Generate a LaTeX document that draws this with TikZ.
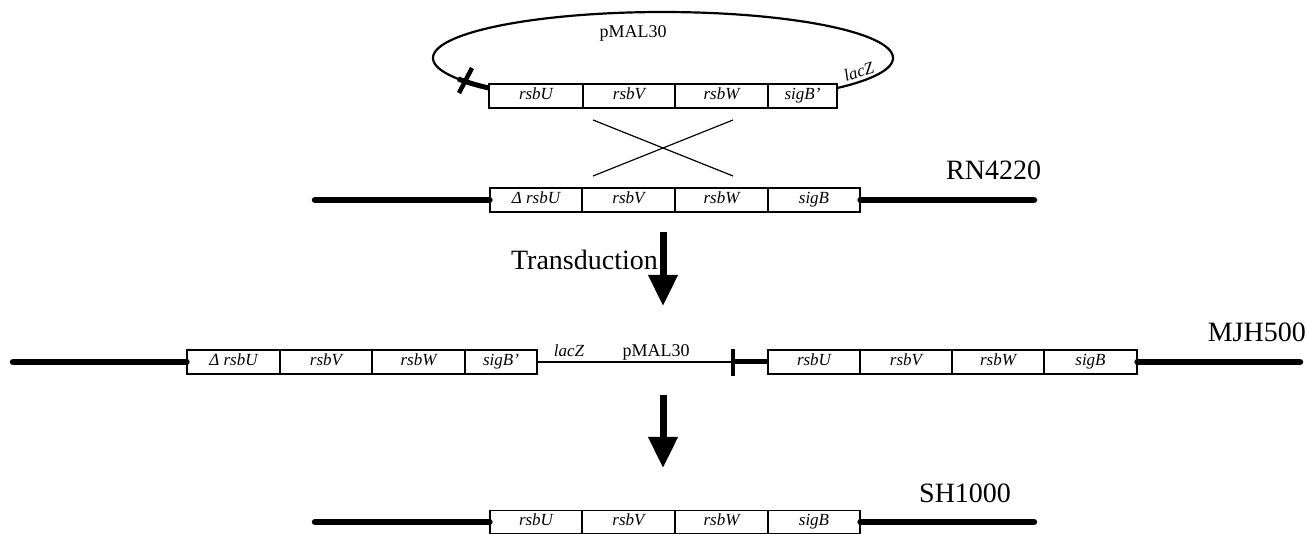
\documentclass[tikz,border=0pt]{standalone}
\usepackage{fontspec}
\setmainfont{Liberation Serif}
\usetikzlibrary{arrows.meta}

\begin{document}
\begin{tikzpicture}[x=1pt, y=-1pt,
  gene/.style={draw, line width=1.1pt, minimum height=24pt, inner sep=0pt,
               text height=11pt, text depth=3.5pt,
               font=\fontsize{17}{17}\selectfont\itshape},
  chrom/.style={line width=6.5pt, line cap=round},
  plasmid/.style={line width=2.2pt},
  thin/.style={line width=1.2pt},
  strain/.style={font=\fontsize{28}{28}\selectfont, inner sep=0pt},
  small/.style={font=\fontsize{18}{18}\selectfont, inner sep=0pt},
  bigarrow/.style={line width=7pt, -{Triangle[width=28pt,length=31pt]}}
]
\useasboundingbox (0,0) rectangle (1307,534);

% ---------- plasmid pMAL30 carrying the rsbU-sigB' fragment ----------
\node[gene, minimum width=94pt] (tU) at (536,96)   {rsbU};
\node[gene, minimum width=92pt] (tV) at (629,96)   {rsbV};
\node[gene, minimum width=93pt] (tW) at (721.5,96) {rsbW};
\node[gene, minimum width=69pt] (tB) at (802.5,96) {sigB’};
\draw[plasmid] plot[domain=139.2:400.8, samples=120]
  ({663+230*cos(\x)}, {58+46*sin(\x)});
\draw[line width=5pt] plot[domain=139.2:153, samples=20]
  ({663+230*cos(\x)}, {58+46*sin(\x)});
\coordinate (tickA) at (459,93);
\coordinate (tickB) at (472,68);
\draw[line width=4.5pt] (tickA) -- (tickB);
\node[small] (pmalTop) at (633,33) {pMAL30};
\node[inner sep=0pt, font=\fontsize{17}{17}\selectfont\itshape, anchor=base west, rotate=18]
  (lacTop) at (846,82) {lacZ};

% ---------- crossover ----------
\coordinate (x1) at (593,120);
\coordinate (x2) at (733,120);
\coordinate (x3) at (593,176);
\coordinate (x4) at (733,176);
\draw[thin] (x1) -- (x4);
\draw[thin] (x2) -- (x3);

% ---------- RN4220 chromosome ----------
\node[gene, minimum width=92pt] (rU) at (536,200)   {Δ rsbU};
\node[gene, minimum width=93pt] (rV) at (628.5,200) {rsbV};
\node[gene, minimum width=93pt] (rW) at (721.5,200) {rsbW};
\node[gene, minimum width=92pt] (rB) at (814,200)   {sigB};
\coordinate (rL) at (315,200);
\coordinate (rR) at (1034,200);
\draw[chrom] (rL) -- (rU.west);
\draw[chrom] (rB.east) -- (rR);
\node[strain, anchor=base west] (rn) at (946,180) {RN4220};

% ---------- transduction ----------
\coordinate (a1s) at (663,232);
\coordinate (a1e) at (663,306);
\draw[bigarrow] (a1s) -- (a1e);
\node[strain, anchor=base east] (trans) at (658,270) {Transduction};

% ---------- MJH500 chromosome ----------
\node[gene, minimum width=93pt] (mU) at (233.5,362) {Δ rsbU};
\node[gene, minimum width=92pt] (mV) at (326,362)   {rsbV};
\node[gene, minimum width=93pt] (mW) at (418.5,362) {rsbW};
\node[gene, minimum width=72pt] (mB) at (501,362)   {sigB’};
\node[gene, minimum width=92pt] (nU) at (814,362)   {rsbU};
\node[gene, minimum width=92pt] (nV) at (906,362)   {rsbV};
\node[gene, minimum width=92pt] (nW) at (998,362)   {rsbW};
\node[gene, minimum width=93pt] (nB) at (1090.5,362) {sigB};
\coordinate (mL) at (13,362);
\coordinate (mR) at (1300,362);
\coordinate (mTick) at (733,362);
\coordinate (mTickT) at (733,349);
\coordinate (mTickB) at (733,376);
\draw[chrom] (mL) -- (mU.west);
\draw[thin] (mB.east) -- (mTick);
\draw[line width=5pt] (mTick) -- (nU.west);
\draw[line width=4.5pt] (mTickT) -- (mTickB);
\draw[chrom] (nB.east) -- (mR);
\node[inner sep=0pt, font=\fontsize{17}{17}\selectfont\itshape, anchor=base] (lacMid) at (569,357) {lacZ};
\node[small, anchor=base] (pmalMid) at (656,357) {pMAL30};
\node[strain, anchor=base east] (mjh) at (1306,342) {MJH500};

% ---------- excision ----------
\coordinate (a2s) at (663,395);
\coordinate (a2e) at (663,468);
\draw[bigarrow] (a2s) -- (a2e);

% ---------- SH1000 chromosome ----------
\node[gene, minimum width=92pt, minimum height=23pt] (sU) at (536,522)   {rsbU};
\node[gene, minimum width=93pt, minimum height=23pt] (sV) at (628.5,522) {rsbV};
\node[gene, minimum width=93pt, minimum height=23pt] (sW) at (721.5,522) {rsbW};
\node[gene, minimum width=92pt, minimum height=23pt] (sB) at (814,522)   {sigB};
\coordinate (sL) at (315,522);
\coordinate (sR) at (1034,522);
\draw[chrom] (sL) -- (sU.west);
\draw[chrom] (sB.east) -- (sR);
\node[strain, anchor=base west] (sh) at (919,502) {SH1000};
\end{tikzpicture}
\end{document}
